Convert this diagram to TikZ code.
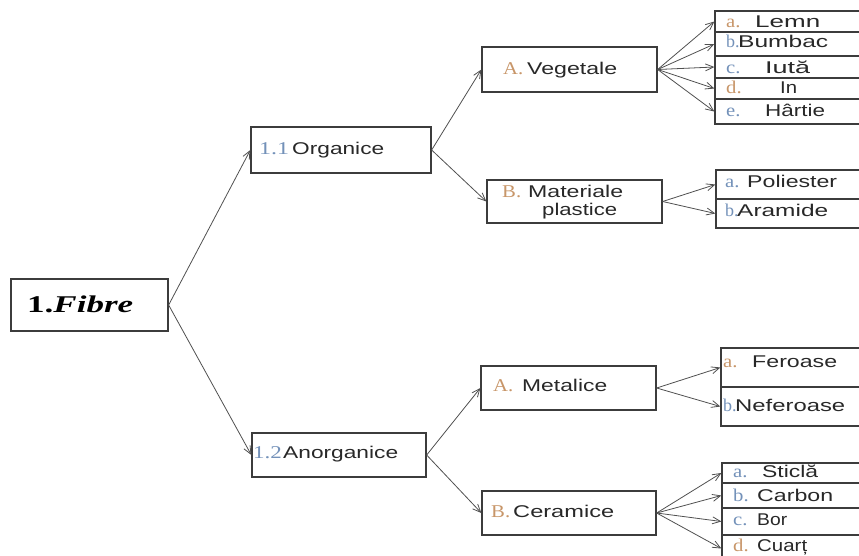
\documentclass[tikz,border=0pt]{standalone}
\usepackage{fontspec}
\usepackage{graphicx}
\setmainfont{Liberation Sans}
\newfontfamily\serifp{Liberation Serif}
\usetikzlibrary{arrows.meta}
\definecolor{edge}{RGB}{60,60,60}
\definecolor{wire}{RGB}{80,80,80}
\definecolor{ink}{RGB}{40,40,40}
\definecolor{pfxw}{RGB}{200,150,105}
\definecolor{pfxc}{RGB}{115,145,185}
% stretch a word to a given width, keeping its height
\newcommand\fit[2]{\resizebox{#1pt}{\height}{#2}}
% serif item prefixes (warm / cool tint) in a box of fixed width
\newcommand\pw[2]{{\serifp\fontsize{18}{20}\selectfont\color{pfxw}\makebox[#1pt][l]{\scalebox{1.15}[1]{#2}}}}
\newcommand\pc[2]{{\serifp\fontsize{18}{20}\selectfont\color{pfxc}\makebox[#1pt][l]{\scalebox{1.15}[1]{#2}}}}
% narrow variant for tight prefixes
\newcommand\pn[2]{{\serifp\fontsize{18}{20}\selectfont\color{pfxc}\makebox[#1pt][l]{#2}}}

\begin{document}
\begin{tikzpicture}[x=1pt,y=-1pt,
  box/.style={draw=edge,line width=1.3pt,inner sep=0pt,fill=white},
  row/.style={draw=edge,line width=1.3pt,inner sep=0pt},
  lbl/.style={inner sep=0pt,anchor=west,text=ink,
    font=\fontsize{17}{20}\selectfont,text height=12pt,text depth=3pt},
  arr/.style={draw=wire,line width=0.8pt,-{Straight Barb[length=8pt,width=7pt]}}]
\useasboundingbox (0,0) rectangle (859,555);
\clip (0,0) rectangle (859,555);

% main boxes
\node[box,minimum width=157,minimum height=52] (fib) at (89.5,305) {};
\node[box,minimum width=180,minimum height=46] (org) at (341,150) {};
\node[box,minimum width=174,minimum height=44] (ano) at (339,455) {};
\node[box,minimum width=175,minimum height=45] (veg) at (569.5,69.5) {};
\node[box,minimum width=175,minimum height=43] (mat) at (574.5,201.5) {};
\node[box,minimum width=175,minimum height=44] (met) at (568.5,388) {};
\node[box,minimum width=174,minimum height=44] (cer) at (569,513) {};

% list rows (running past the right edge)
\node[row,minimum width=151,minimum height=21] (v1) at (790.5,21.5) {};
\node[row,minimum width=151,minimum height=24] (v2) at (790.5,44) {};
\node[row,minimum width=151,minimum height=22] (v3) at (790.5,67) {};
\node[row,minimum width=151,minimum height=21] (v4) at (790.5,88.5) {};
\node[row,minimum width=151,minimum height=25] (v5) at (790.5,111.5) {};
\node[row,minimum width=150,minimum height=29] (p1) at (791,184.5) {};
\node[row,minimum width=150,minimum height=29] (p2) at (791,213.5) {};
\node[row,minimum width=145,minimum height=39] (m1) at (793.5,367.5) {};
\node[row,minimum width=145,minimum height=39] (m2) at (793.5,406.5) {};
\node[row,minimum width=144,minimum height=20] (c1) at (794,473) {};
\node[row,minimum width=144,minimum height=25] (c2) at (794,495.5) {};
\node[row,minimum width=144,minimum height=27] (c3) at (794,521.5) {};
\node[row,minimum width=144,minimum height=27] (c4) at (794,548.5) {};

% connectors
\draw[arr] (fib.east) -- (org.west);
\draw[arr] (fib.east) -- (ano.west);
\draw[arr] (org.east) -- (veg.west);
\draw[arr] (org.east) -- (mat.west);
\draw[arr] (ano.east) -- (met.west);
\draw[arr] (ano.east) -- (cer.west);
\foreach \r in {v1,v2,v3,v4,v5} \draw[arr] (veg.east) -- (\r.west);
\foreach \r in {p1,p2} \draw[arr] (mat.east) -- (\r.west);
\foreach \r in {m1,m2} \draw[arr] (met.east) -- (\r.west);
\foreach \r in {c1,c2,c3,c4} \draw[arr] (cer.east) -- (\r.west);

% labels
\node[lbl,text=black,text height=17pt,text depth=5pt] (fibt) at (27,306)
  {\fontsize{24}{28}\selectfont\serifp\fit{106}{\textbf{1.}\textbf{\textit{Fibre}}}};
\node[lbl] (orgt) at (259,150) {\pc{33}{\fit{26}{1.1}}\fit{92}{Organice}};
\node[lbl] (anot) at (253,454) {\pc{30}{\fit{25}{1.2}}\fit{115}{Anorganice}};
\node[lbl] (vegt) at (503,70) {\pw{24}{A.}\fit{90}{Vegetale}};
\node[lbl] (matt) at (502,193) {\pw{26}{B.}\fit{95}{Materiale}};
\node[lbl] (matu) at (542,211) {\fit{75}{plastice}};
\node[lbl] (mett) at (493,387) {\pw{29}{A.}\fit{85}{Metalice}};
\node[lbl] (cert) at (491,513) {\pw{22}{B.}\fit{101}{Ceramice}};

\node[lbl] (v1t) at (726,23) {\pw{29}{a.}\fit{65}{Lemn}};
\node[lbl] (v2t) at (726,43) {\pn{12}{b.}\fit{90}{Bumbac}};
\node[lbl] (v3t) at (726,69) {\pc{39}{c.}\fit{45}{Iută}};
\node[lbl] (v4t) at (726,89) {\pw{54}{d.}\fit{17}{In}};
\node[lbl] (v5t) at (726,112) {\pc{39}{e.}\fit{60}{Hârtie}};
\node[lbl] (p1t) at (725,183) {\pc{22}{a.}\fit{90}{Poliester}};
\node[lbl] (p2t) at (725,212) {\pn{12}{b.}\fit{91}{Aramide}};
\node[lbl] (m1t) at (723,363) {\pw{29}{a.}\fit{85}{Feroase}};
\node[lbl] (m2t) at (723,407) {\pn{12}{b.}\fit{110}{Neferoase}};
\node[lbl] (c1t) at (733,473) {\pc{29}{a.}\fit{56}{Sticlă}};
\node[lbl] (c2t) at (733,497) {\pc{24}{b.}\fit{76}{Carbon}};
\node[lbl] (c3t) at (733,521) {\pc{24}{c.}\fit{30}{Bor}};
\node[lbl] (c4t) at (733,547) {\pw{24}{d.}\fit{50}{Cuarț}};
\end{tikzpicture}
\end{document}
